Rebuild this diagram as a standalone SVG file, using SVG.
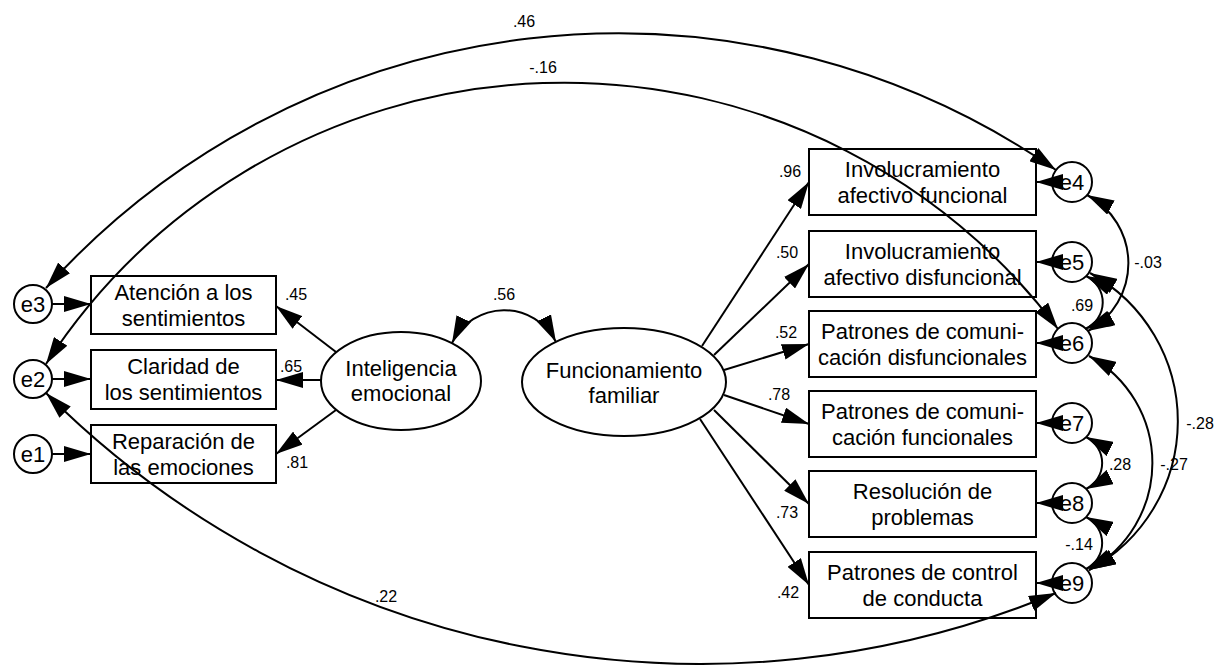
<svg xmlns="http://www.w3.org/2000/svg" width="1217" height="665" viewBox="0 0 1217 665">
<defs>
<marker id="ah" viewBox="0 0 27 16" refX="27" refY="8" markerWidth="27" markerHeight="16" markerUnits="userSpaceOnUse" orient="auto-start-reverse"><path d="M0,0 L27,8 L0,16 Z" fill="#000"/></marker>
</defs>
<style>
.box{fill:#fff;stroke:#000;stroke-width:2}
.t{font-family:"Liberation Sans",Arial,sans-serif;font-size:22px;text-anchor:middle;fill:#000}
.n{font-family:"Liberation Sans",Arial,sans-serif;font-size:16px;text-anchor:middle;fill:#000}
.c{fill:none;stroke:#000;stroke-width:2}
.p{marker-end:url(#ah)}
.cv{marker-start:url(#ah);marker-end:url(#ah)}
</style>
<rect width="1217" height="665" fill="#fff"/>
<g id="nodes">
<g id="e3"><circle class="box" cx="33" cy="304" r="19"/><text class="t" x="33" y="312">e3</text></g>
<g id="e2"><circle class="box" cx="33" cy="379" r="19"/><text class="t" x="33" y="387">e2</text></g>
<g id="e1"><circle class="box" cx="33" cy="454" r="19"/><text class="t" x="33" y="462">e1</text></g>
<g id="atencion"><rect class="box" x="91" y="276" width="185" height="58"/><text class="t" x="183.5" y="300">Atención a los</text><text class="t" x="183.5" y="326">sentimientos</text></g>
<g id="claridad"><rect class="box" x="91" y="350" width="185" height="59"/><text class="t" x="183.5" y="374">Claridad de</text><text class="t" x="183.5" y="400">los sentimientos</text></g>
<g id="reparacion"><rect class="box" x="91" y="425" width="185" height="58"/><text class="t" x="183.5" y="449">Reparación de</text><text class="t" x="183.5" y="475">las emociones</text></g>
<g id="inteligencia"><ellipse class="box" cx="401" cy="381" rx="80" ry="49"/><text class="t" x="401" y="376">Inteligencia</text><text class="t" x="401" y="401">emocional</text></g>
<g id="funcionamiento"><ellipse class="box" cx="624" cy="382" rx="102" ry="54"/><text class="t" x="624" y="378">Funcionamiento</text><text class="t" x="624" y="403">familiar</text></g>
<g id="inv_func"><rect class="box" x="809" y="149" width="227" height="66"/><text class="t" x="922.5" y="177">Involucramiento</text><text class="t" x="922.5" y="203">afectivo funcional</text></g>
<g id="inv_disf"><rect class="box" x="809" y="231" width="227" height="66"/><text class="t" x="922.5" y="259">Involucramiento</text><text class="t" x="922.5" y="285">afectivo disfuncional</text></g>
<g id="com_disf"><rect class="box" x="809" y="311" width="227" height="66"/><text class="t" x="922.5" y="339">Patrones de comuni-</text><text class="t" x="922.5" y="365">cación disfuncionales</text></g>
<g id="com_func"><rect class="box" x="809" y="391" width="227" height="66"/><text class="t" x="922.5" y="419">Patrones de comuni-</text><text class="t" x="922.5" y="445">cación funcionales</text></g>
<g id="resolucion"><rect class="box" x="809" y="471" width="227" height="66"/><text class="t" x="922.5" y="499">Resolución de</text><text class="t" x="922.5" y="525">problemas</text></g>
<g id="control"><rect class="box" x="809" y="552" width="227" height="66"/><text class="t" x="922.5" y="580">Patrones de control</text><text class="t" x="922.5" y="606">de conducta</text></g>
<g id="e4"><circle class="box" cx="1072" cy="182" r="20"/><text class="t" x="1072" y="190">e4</text></g>
<g id="e5"><circle class="box" cx="1072" cy="262" r="20"/><text class="t" x="1072" y="270">e5</text></g>
<g id="e6"><circle class="box" cx="1072" cy="343" r="20"/><text class="t" x="1072" y="351">e6</text></g>
<g id="e7"><circle class="box" cx="1072" cy="423" r="20"/><text class="t" x="1072" y="431">e7</text></g>
<g id="e8"><circle class="box" cx="1072" cy="503" r="20"/><text class="t" x="1072" y="511">e8</text></g>
<g id="e9"><circle class="box" cx="1072" cy="583" r="20"/><text class="t" x="1072" y="591">e9</text></g>
</g>
<g id="connectors">
<path class="c p" d="M52,304 L91,304"/>
<path class="c p" d="M52,379 L91,379"/>
<path class="c p" d="M52,454 L91,454"/>
<path class="c p" d="M336,352 L276,306"/>
<path class="c p" d="M321,380 L276,380"/>
<path class="c p" d="M336,410 L276,454"/>
<path class="c p" d="M702,346 L809,182"/>
<path class="c p" d="M714,355 L809,264"/>
<path class="c p" d="M724,370 L809,344"/>
<path class="c p" d="M724,395 L809,424"/>
<path class="c p" d="M714,410 L809,504"/>
<path class="c p" d="M700,419 L809,585"/>
<path class="c p" d="M1060,182 L1036,182"/>
<path class="c p" d="M1060,262 L1036,262"/>
<path class="c p" d="M1060,343 L1036,343"/>
<path class="c p" d="M1060,423 L1036,423"/>
<path class="c p" d="M1060,503 L1036,503"/>
<path class="c p" d="M1060,583 L1036,583"/>
<path class="c cv" d="M452,343 A58,58 0 0 1 556,342"/>
<path class="c cv" d="M46,288 A770,770 0 0 1 1056,170"/>
<path class="c cv" d="M46,364 A618,618 0 0 1 1058,329"/>
<path class="c cv" d="M46,393 A926,926 0 0 0 1056,593"/>
<path class="c cv" d="M1087,195 A77,77 0 0 1 1088,331"/>
<path class="c cv" d="M1086,276 A29,29 0 0 1 1085,329"/>
<path class="c cv" d="M1086,437 A29,29 0 0 1 1086,489"/>
<path class="c cv" d="M1086,517 A29,29 0 0 1 1086,569"/>
<path class="c cv" d="M1090,273 A169,169 0 0 1 1089,570"/>
<path class="c cv" d="M1089,356 A122,122 0 0 1 1089,570"/>
</g>
<g id="labels">
<text class="n" x="524" y="27">.46</text>
<text class="n" x="543" y="73">-.16</text>
<text class="n" x="504" y="300">.56</text>
<text class="n" x="296" y="300">.45</text>
<text class="n" x="291" y="372">.65</text>
<text class="n" x="297" y="468">.81</text>
<text class="n" x="790" y="177">.96</text>
<text class="n" x="787" y="258">.50</text>
<text class="n" x="786" y="338">.52</text>
<text class="n" x="779" y="400">.78</text>
<text class="n" x="787" y="518">.73</text>
<text class="n" x="788" y="598">.42</text>
<text class="n" x="386" y="602">.22</text>
<text class="n" x="1148" y="268">-.03</text>
<text class="n" x="1082" y="311">.69</text>
<text class="n" x="1200" y="429">-.28</text>
<text class="n" x="1174" y="470">-.27</text>
<text class="n" x="1120" y="470">.28</text>
<text class="n" x="1079" y="550">-.14</text>
</g>
</svg>
